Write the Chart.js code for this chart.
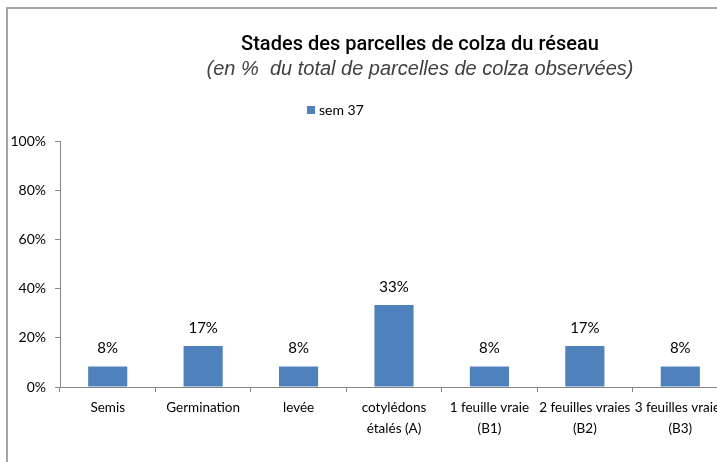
<!DOCTYPE html>
<html>
<head>
<meta charset="utf-8">
<script src="https://cdn.jsdelivr.net/npm/chart.js@4.4.1/dist/chart.umd.min.js"></script>
<style>
  html, body { margin: 0; padding: 0; background: #fff; overflow: hidden; }
  #wrap { position: relative; width: 717px; height: 462px; overflow: hidden; }
  #frame { position: absolute; left: 6px; top: 7px; width: 760px; height: 500px;
           border-left: 2px solid #a6a6a6; border-top: 2px solid #a6a6a6; pointer-events: none; }
  #box { position: absolute; left: 0; top: 0; width: 740px; height: 462px; }
</style>
</head>
<body>
<div id="wrap">
  <div id="box"><canvas id="chart"></canvas></div>
  <div id="frame"></div>
</div>
<script>
/* ── DATA ─────────────────────────────────────────────────── */
const categories = [
  ["Semis"],
  ["Germination"],
  ["levée"],
  ["cotylédons", "étalés (A)"],
  ["1 feuille vraie", "(B1)"],
  ["2 feuilles vraies", "(B2)"],
  ["3 feuilles vraies", "(B3)"]
];
const seriesName = "sem 37";
const values     = [8.33, 16.67, 8.33, 33.33, 8.33, 16.67, 8.33];
const yTicks     = [0, 20, 40, 60, 80, 100];

const titleText    = "Stades des parcelles de colza du réseau";
const subtitleText = "(en %  du total de parcelles de colza observées)";

const BAR_BLUE = "#4f81bd";
const AXIS_GREY = "#868686";
const LABEL_FONT = "Lato, 'Liberation Sans', sans-serif";

/* ── TITLE / LEGEND / VALUE LABELS ────────────────────────── */
const decorPlugin = {
  id: "decor",
  afterDraw(chart) {
    const ctx = chart.ctx;
    ctx.save();
    ctx.textAlign = "center";
    ctx.textBaseline = "middle";

    ctx.fillStyle = "#000";
    ctx.font = "500 20px Roboto, 'Liberation Sans', Arial, sans-serif";
    ctx.fillText(titleText, 420, 45);

    ctx.fillStyle = "#404040";
    ctx.font = "italic 20px 'Liberation Sans', Arial, sans-serif";
    ctx.fillText(subtitleText, 420, 69);

    // legend
    const ds = chart.data.datasets[0];
    ctx.fillStyle = ds.backgroundColor;
    ctx.fillRect(307, 106, 8, 8);
    ctx.fillStyle = "#000";
    ctx.textAlign = "left";
    ctx.font = "14px " + LABEL_FONT;
    ctx.fillText(ds.label, 319, 110);

    // value labels
    ctx.textAlign = "center";
    ctx.font = "15px " + LABEL_FONT;
    chart.getDatasetMeta(0).data.forEach((bar, i) => {
      ctx.fillText(Math.round(ds.data[i]) + "%", bar.x, bar.y - 18);
    });
    ctx.restore();
  }
};

/* ── CHART ────────────────────────────────────────────────── */
new Chart(document.getElementById("chart"), {
  type: "bar",
  data: {
    labels: categories,
    datasets: [{
      label: seriesName,
      data: values,
      backgroundColor: BAR_BLUE,
      borderWidth: 0,
      categoryPercentage: 1,
      barPercentage: 0.41
    }]
  },
  options: {
    responsive: true,
    maintainAspectRatio: false,
    animation: false,
    layout: { padding: { top: 141, right: 12, bottom: 0, left: 0 } },
    plugins: {
      legend: { display: false },
      title: { display: false },
      tooltip: { enabled: false }
    },
    scales: {
      x: {
        offset: true,
        border: { color: AXIS_GREY, width: 1 },
        grid: { display: true, drawOnChartArea: false, drawTicks: true, tickLength: 5, color: AXIS_GREY, offset: true },
        ticks: {
          color: "#000",
          font: { family: LABEL_FONT, size: 13.5, lineHeight: "21px" },
          autoSkip: false, maxRotation: 0, minRotation: 0, padding: 5
        },
        afterFit: s => { s.height = 75; }
      },
      y: {
        min: 0, max: 100,
        border: { color: AXIS_GREY, width: 1 },
        grid: { display: true, drawOnChartArea: false, drawTicks: true, tickLength: 5, color: AXIS_GREY },
        afterBuildTicks: s => { s.ticks = yTicks.map(v => ({ value: v })); },
        ticks: {
          color: "#000",
          font: { family: LABEL_FONT, size: 14 },
          padding: 9,
          callback: v => v + "%"
        },
        afterFit: s => { s.width = 60; }
      }
    }
  },
  plugins: [decorPlugin]
});
</script>
</body>
</html>
